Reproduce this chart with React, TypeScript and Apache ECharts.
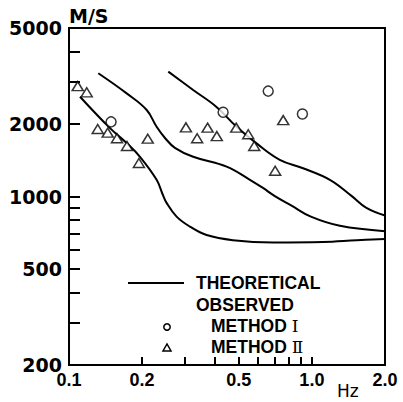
import React, { useEffect, useRef } from "react";
import * as echarts from "echarts";

// Theoretical curves [Hz, m/s]
const curveLow: number[][] = [
  [0.111, 2594], [0.1475, 1921], [0.1727, 1666], [0.196, 1461], [0.2295, 1173],
  [0.2434, 1017], [0.2522, 941], [0.2773, 825], [0.3147, 750], [0.3685, 692],
  [0.4728, 659], [0.6915, 645], [1.11, 648], [1.53, 659], [2.0, 667],
];
const curveMid: number[][] = [
  [0.132, 3245], [0.1727, 2678], [0.2089, 2285], [0.2295, 1946], [0.2484, 1749],
  [0.2729, 1592], [0.3245, 1461], [0.4454, 1330], [0.5558, 1173], [0.6285, 1085],
  [0.704, 1004], [0.828, 914], [0.9906, 825], [1.304, 756], [2.0, 718],
];
const curveHigh: number[][] = [
  [0.2563, 3296], [0.3245, 2766], [0.4048, 2353], [0.4898, 1946], [0.5917, 1661],
  [0.7375, 1420], [0.92, 1310], [1.186, 1173], [1.46, 1004], [1.67, 900], [2.0, 834],
];
// Observed, method I (circles)
const methodOne: number[][] = [
  [0.149, 2040], [0.431, 2236], [0.661, 2736], [0.914, 2200],
];
// Observed, method II (triangles)
const methodTwo: number[][] = [
  [0.1086, 2870], [0.1183, 2705], [0.1313, 1905], [0.1443, 1840], [0.1576, 1745],
  [0.1733, 1620], [0.194, 1377], [0.211, 1737], [0.303, 1936], [0.337, 1745],
  [0.372, 1930], [0.406, 1781], [0.488, 1930], [0.547, 1812], [0.579, 1620],
  [0.706, 1279], [0.762, 2074],
];
const xLabels = [0.1, 0.2, 0.5, 1.0, 2.0];
const xTicks = [0.2, 0.3, 0.4, 0.5, 0.6, 0.7, 0.8, 0.9, 1.0];
const yLabels = [200, 500, 1000, 2000, 5000];
const yTicks = [300, 400, 500, 600, 700, 800, 900, 1000, 2000, 3000, 4000];

const NUM_FONT = "'DejaVu Sans', sans-serif";
const TXT_FONT = "'Liberation Sans', Arial, sans-serif";

export default function App() {
  const ref = useRef<HTMLDivElement>(null);
  useEffect(() => {
    if (!ref.current) return;
    const chart = echarts.init(ref.current, null, { renderer: "svg" });
    const lineSeries = (data: number[][]) => ({
      type: "line",
      data,
      smooth: 0.4,
      symbol: "none",
      lineStyle: { color: "#000", width: 2 },
      z: 2,
    });
    const markerStyle = { color: "#fff", borderColor: "#000", borderWidth: 1.5 };
    const roman = { fontFamily: "'DejaVu Serif', serif", fontSize: 17, lineHeight: 17, fontWeight: "normal", fill: "#000" };
    const legendText = (text: string, x: number, y: number, rich?: any) => ({
      type: "text", x, y,
      style: {
        text, fill: "#000", fontFamily: TXT_FONT, fontWeight: "bold", fontSize: 17.5, lineHeight: 17,
        verticalAlign: "middle", rich,
      },
    });
    chart.setOption({
      animation: false,
      backgroundColor: "#fff",
      grid: {
        left: 69, right: 18, top: 28, bottom: 37,
        show: true, borderColor: "#000", borderWidth: 2, backgroundColor: "transparent",
        outerBoundsMode: "none",
      },
      xAxis: {
        type: "log", logBase: 10, min: 0.1, max: 2.0,
        axisLine: { show: true, lineStyle: { color: "#000", width: 2 } },
        axisTick: { show: true, inside: true, length: 8, customValues: xTicks, lineStyle: { color: "#000", width: 2 } },
        axisLabel: {
          customValues: xLabels, margin: 6, color: "#000",
          fontFamily: TXT_FONT, fontWeight: "bold", fontSize: 18,
          formatter: (v: number) => (Math.round(v * 10) / 10).toFixed(1),
        },
        splitLine: { show: false }, minorTick: { show: false },
      },
      yAxis: {
        type: "log", logBase: 10, min: 200, max: 5000,
        name: "M/S", nameLocation: "end", nameGap: 3,
        nameTextStyle: { align: "left", verticalAlign: "bottom", color: "#000", fontFamily: NUM_FONT, fontWeight: "bold", fontSize: 19, padding: [0, 0, 0, 0] },
        axisLine: { show: true, lineStyle: { color: "#000", width: 2 } },
        axisTick: { show: true, inside: true, length: 11, customValues: yTicks, lineStyle: { color: "#000", width: 2 } },
        axisLabel: {
          customValues: yLabels, margin: 7, color: "#000",
          fontFamily: NUM_FONT, fontWeight: "bold", fontSize: 19,
          formatter: (v: number) => String(Math.round(v)),
        },
        splitLine: { show: false }, minorTick: { show: false },
      },
      series: [
        lineSeries(curveLow),
        lineSeries(curveMid),
        lineSeries(curveHigh),
        { type: "scatter", data: methodOne, symbol: "circle", symbolSize: 10, itemStyle: markerStyle, z: 3 },
        { type: "scatter", data: methodTwo, symbol: "triangle", symbolSize: [11, 9], itemStyle: markerStyle, z: 3 },
      ],
      graphic: [
        { type: "line", shape: { x1: 128, y1: 283, x2: 184, y2: 283 }, style: { stroke: "#000", lineWidth: 2 } },
        legendText("THEORETICAL", 196, 283),
        legendText("OBSERVED", 196, 305),
        { type: "circle", shape: { cx: 167, cy: 327, r: 3.2 }, style: { fill: "#fff", stroke: "#000", lineWidth: 1.5 } },
        legendText("METHOD {r|Ⅰ}", 211, 326, { r: roman }),
        { type: "polygon", shape: { points: [[163, 351], [171, 351], [167, 344]] }, style: { fill: "#fff", stroke: "#000", lineWidth: 1.5 } },
        legendText("METHOD {r|Ⅱ}", 211, 347, { r: roman }),
        { type: "text", x: 337, y: 391, style: { text: "Hz", fill: "#000", fontFamily: NUM_FONT, fontSize: 17, lineHeight: 17, verticalAlign: "middle" } },
      ],
    });
    return () => chart.dispose();
  }, []);
  return (
    <div
      ref={ref}
      style={{ position: "fixed", left: 0, top: 0, width: 403, height: 402, background: "#fff" }}
    />
  );
}
